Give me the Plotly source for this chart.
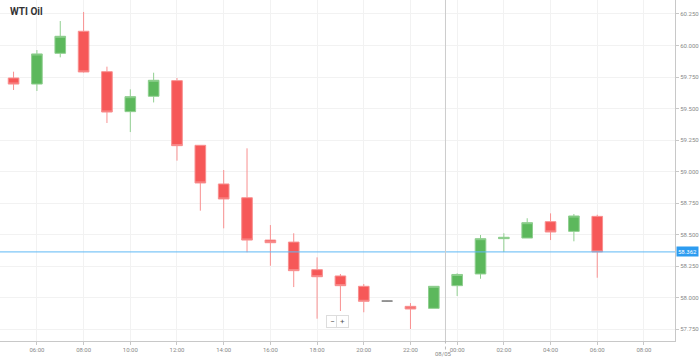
import plotly.graph_objects as go

# ---------------- data ----------------
times = [
    "2020-05-07 05:00", "2020-05-07 06:00", "2020-05-07 07:00", "2020-05-07 08:00",
    "2020-05-07 09:00", "2020-05-07 10:00", "2020-05-07 11:00", "2020-05-07 12:00",
    "2020-05-07 13:00", "2020-05-07 14:00", "2020-05-07 15:00", "2020-05-07 16:00",
    "2020-05-07 17:00", "2020-05-07 18:00", "2020-05-07 19:00", "2020-05-07 20:00",
    "2020-05-07 21:00", "2020-05-07 22:00", "2020-05-07 23:00", "2020-05-08 00:00",
    "2020-05-08 01:00", "2020-05-08 02:00", "2020-05-08 03:00", "2020-05-08 04:00",
    "2020-05-08 05:00", "2020-05-08 06:00",
]
opens = [59.742, 59.694, 59.938, 60.113, 59.792, 59.475, 59.597, 59.721, 59.208, 58.901,
         58.792, 58.456, 58.440, 58.221, 58.171, 58.089, 57.972, 57.930, 57.914, 58.094,
         58.187, 58.467, 58.472, 58.602, 58.525, 58.644]
highs = [59.792, 59.964, 60.194, 60.266, 59.832, 59.652, 59.784, 59.742, 59.208, 59.012,
         59.184, 58.575, 58.510, 58.319, 58.187, 58.107, 57.974, 57.956, 58.089, 58.192,
         58.496, 58.510, 58.629, 58.668, 58.663, 58.657]
lows = [59.647, 59.639, 59.906, 59.785, 59.385, 59.313, 59.548, 59.086, 58.689, 58.549,
        58.359, 58.252, 58.083, 57.832, 57.893, 57.883, 57.970, 57.750, 57.914, 58.012,
        58.149, 58.361, 58.472, 58.456, 58.446, 58.157]
closes = [59.694, 59.933, 60.073, 59.790, 59.472, 59.594, 59.724, 59.205, 58.909, 58.782,
          58.456, 58.435, 58.213, 58.165, 58.094, 57.970, 57.972, 57.909, 58.089, 58.183,
          58.467, 58.478, 58.594, 58.520, 58.647, 58.362]

title = "WTI Oil"
current_price = 58.362
current_label = "58.362"
day_label = "08/05"
day_separator = "2020-05-07 23:30"
x_range = ["2020-05-07 04:25:09", "2020-05-08 09:19:50"]
y_range = [57.655, 60.361]
y_ticks = [57.75, 58.0, 58.25, 58.5, 58.75, 59.0, 59.25, 59.5, 59.75, 60.0, 60.25]

# split: regular candles vs. flat (doji) candle
flat_idx = [i for i in range(len(times)) if abs(opens[i] - closes[i]) < 1e-9]
reg_idx = [i for i in range(len(times)) if i not in flat_idx]

RED_FILL, RED_LINE = "#F65858", "#F89090"
GRN_FILL, GRN_LINE = "#5CB85C", "#90CF90"

fig = go.Figure()
fig.add_trace(go.Candlestick(
    x=[times[i] for i in reg_idx],
    open=[opens[i] for i in reg_idx],
    high=[highs[i] for i in reg_idx],
    low=[lows[i] for i in reg_idx],
    close=[closes[i] for i in reg_idx],
    increasing=dict(fillcolor=GRN_FILL, line=dict(color=GRN_LINE, width=1)),
    decreasing=dict(fillcolor=RED_FILL, line=dict(color=RED_LINE, width=1)),
    showlegend=False, hoverinfo="x+y",
))
fig.add_trace(go.Candlestick(
    x=[times[i] for i in flat_idx],
    open=[opens[i] for i in flat_idx],
    high=[highs[i] for i in flat_idx],
    low=[lows[i] for i in flat_idx],
    close=[closes[i] for i in flat_idx],
    increasing=dict(fillcolor="#888888", line=dict(color="#888888", width=1)),
    decreasing=dict(fillcolor="#888888", line=dict(color="#888888", width=1)),
    showlegend=False,
))

# current price line
fig.add_hline(y=current_price, line=dict(color="#5DB9F5", width=1), layer="above")
# day separator
fig.add_shape(type="line", xref="x", yref="paper", x0=day_separator, x1=day_separator,
              y0=0, y1=1, line=dict(color="#CCCCCC", width=1))
fig.add_shape(type="line", xref="x", yref="paper", x0=day_separator, x1=day_separator,
              y0=-0.025, y1=0, line=dict(color="#BBBBBB", width=1, dash="dot"))

fig.update_layout(
    width=699, height=358,
    margin=dict(l=0, r=22, t=0, b=17),
    paper_bgcolor="white", plot_bgcolor="white",
    boxgap=0.35,
    font=dict(family="Roboto, Arial, sans-serif", color="#888888", size=6),
    xaxis=dict(
        type="date", range=x_range, rangeslider=dict(visible=False),
        tick0="2020-05-07 06:00", dtick=7200000, tickformat="%H:%M",
        showgrid=True, gridcolor="#F2F2F2", gridwidth=1,
        showline=True, linecolor="#C8C8C8", linewidth=1,
        ticks="outside", ticklen=3, tickcolor="#C8C8C8",
        tickfont=dict(size=6, color="#888888"), zeroline=False,
    ),
    yaxis=dict(
        side="right", range=y_range, tickvals=y_ticks,
        ticktext=[f"{v:.3f}" for v in y_ticks],
        showgrid=True, gridcolor="#F2F2F2", gridwidth=1,
        showline=True, linecolor="#C8C8C8", linewidth=1,
        ticks="outside", ticklen=3, tickcolor="#C8C8C8",
        tickfont=dict(size=6, color="#888888"), zeroline=False,
    ),
)

annotations = [
    dict(text=f"<b>{title}</b>", x=8 / 677, y=1 - 12 / 341, xref="paper", yref="paper",
         xanchor="left", yanchor="middle", showarrow=False,
         font=dict(size=10, color="#333333", family="Roboto, Arial, sans-serif")),
    dict(text=current_label, x=1.0015, y=current_price, xref="paper", yref="y",
         xanchor="left", yanchor="middle", showarrow=False, bgcolor="#2D9CF0",
         font=dict(size=6, color="white"), borderpad=1),
    dict(text=day_label, x=day_separator, y=-(358 - 341) / 341, xref="x",
         yref="paper", xanchor="center", yanchor="bottom", showarrow=False,
         xshift=-2, borderpad=0, font=dict(size=6, color="#888888")),
    dict(text="−", x=333 / 677, y=(341 - 321) / 341, xref="paper", yref="paper",
         xanchor="center", yanchor="middle", showarrow=False, bgcolor="white",
         bordercolor="#DDDDDD", borderwidth=1, borderpad=1, width=9,
         font=dict(size=8, color="#555555")),
    dict(text="+", x=344 / 677, y=(341 - 321) / 341, xref="paper", yref="paper",
         xanchor="center", yanchor="middle", showarrow=False, bgcolor="white",
         bordercolor="#DDDDDD", borderwidth=1, borderpad=1, width=9,
         font=dict(size=8, color="#555555")),
]
fig.update_layout(annotations=annotations)

fig.write_html("out.html")
